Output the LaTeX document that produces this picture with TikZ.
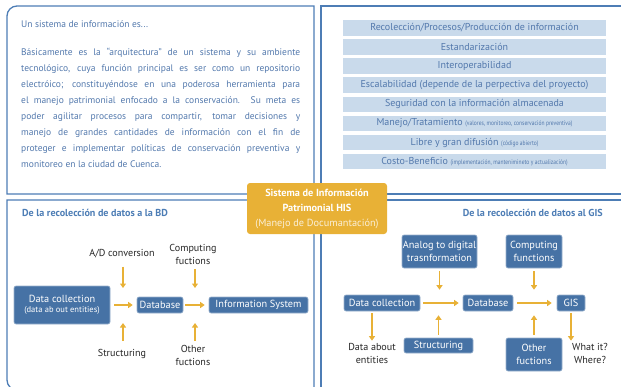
\documentclass[tikz,border=0pt]{standalone}
\usepackage{fontspec}
\setmainfont{PT Sans}
\newfontfamily\narrowfont[FakeStretch=0.84]{PT Sans}
\usetikzlibrary{arrows.meta, positioning}
\definecolor{HIS_Blue}{HTML}{4672A5}
\definecolor{HIS_Line}{HTML}{4D7DB5}
\definecolor{HIS_Text}{HTML}{5278AC}
\definecolor{HIS_Bar}{HTML}{C9DAEB}
\definecolor{HIS_Gold}{HTML}{E8B136}
\definecolor{HIS_Ink}{HTML}{262626}
\newcommand{\smallnote}[1]{{\narrowfont\fontsize{6.6}{7}\selectfont #1}}

\begin{document}
\begin{tikzpicture}[x=1pt, y=-1pt,
    panel/.style={draw=HIS_Line, line width=1.3pt},
    bluebox/.style={fill=HIS_Blue, draw=HIS_Blue!55!white, line width=0.6pt, rounded corners=2pt,
        text=white, align=center, inner sep=0pt, font=\fontsize{10.3}{12.5}\selectfont},
    bar/.style={fill=HIS_Bar, minimum width=263pt, minimum height=15.5pt, inner sep=0pt,
        text=HIS_Text, font=\fontsize{10}{10}\selectfont},
    flow/.style={draw=HIS_Gold, line width=1.8pt, -{Triangle[length=4.5pt, width=6pt]}},
    plain/.style={text=HIS_Ink, align=center, inner sep=1pt, font=\fontsize{10.1}{13}\selectfont},
    paneltitle/.style={text=HIS_Line, font=\bfseries\fontsize{10.1}{11}\selectfont, inner sep=0pt}]
    \clip (0,0) rectangle (621,386);

    % Panels
    \draw[panel] (314,194) -- (7,194) -- (7,16) arc[start angle=180, end angle=90, radius=10pt] -- (314,6) -- cycle;
    \draw[panel] (625,6) -- (321,6) -- (321,194) -- (625,194);
    \draw[panel] (314,200) -- (7,200) -- (7,380) arc[start angle=180, end angle=270, radius=10pt] -- (314,390) -- cycle;
    \draw[panel] (625,200) -- (321,200) -- (321,395);

    % Top left: text
    \node[anchor=base west, text=HIS_Text, inner sep=0pt, font=\fontsize{9.5}{16}\selectfont] (intro) at (21,27) {Un sistema de información es...};
    \node[anchor=north west, text width=279pt, align=justify, text=HIS_Text, inner sep=0pt,
        font=\fontsize{9.5}{16}\selectfont] (body) at (21,48)
        {Básicamente es la “arquitectura” de un sistema y su ambiente\linebreak
        tecnológico, cuya función principal es ser como un repositorio\linebreak
        electróico; constituyéndose en una poderosa herramienta para\linebreak
        el manejo patrimonial enfocado a la conservación. Su meta es\linebreak
        poder agilitar procesos para compartir, tomar decisiones y\linebreak
        manejo de grandes cantidades de información con el fin de\linebreak
        proteger e implementar políticas de conservación preventiva y\linebreak
        monitoreo en la ciudad de Cuenca.};

    % Top right: bars
    \foreach \txt [count=\i from 0] in {{Recolección/Procesos/Producción de información},
        {Estandarización}, {Interoperabilidad},
        {Escalabilidad (depende de la perpectiva del proyecto)},
        {Seguridad con la información almacenada},
        {Manejo/Tratamiento \smallnote{(valores, monitoreo, conservación preventiva)}},
        {Libre y gran difusión \smallnote{(código abierto)}},
        {Costo-Beneficio \smallnote{(implementación, mantenimineto y actualización)}}}
        \node[bar] (bar\i) at (474.5,28+19.08*\i) {\txt};

    % Bottom left: data to BD
    \node[paneltitle, anchor=base west] (title1) at (22,216) {De la recolección de datos a la BD};
    \node[bluebox, minimum width=96pt, minimum height=38pt] (dc1) at (62,305)
        {Data collection\\[-2pt]{\fontsize{8.5}{10}\selectfont(data ab out entities)}};
    \node[bluebox, minimum width=46pt, minimum height=16pt] (db1) at (160,305) {Database};
    \node[bluebox, minimum width=99pt, minimum height=16pt] (is1) at (258.5,305) {Information System};
    \node[plain] (adc) at (122,254) {A/D conversion};
    \node[plain] (cf1) at (193,254.5) {Computing\\fuctions};
    \node[plain] (str1) at (122,354) {Structuring};
    \node[plain] (of1) at (193,355.5) {Other\\fuctions};

    \draw[flow, shorten <=4pt, shorten >=4pt] (dc1) -- (db1);
    \draw[flow, shorten <=2pt, shorten >=4pt] (db1) -- (is1);
    \draw[flow, shorten <=7pt, shorten >=-2pt] (adc.south -| 123,0) -- (123,286);
    \draw[flow, shorten <=7pt, shorten >=-1pt] (str1.north -| 123,0) -- (123,324);
    \draw[flow, shorten <=3pt, shorten >=-2pt] (cf1.south -| 195,0) -- (195,286);
    \draw[flow, shorten <=3pt, shorten >=-1pt] (of1.north -| 195,0) -- (195,324);

    % Bottom right: data to GIS
    \node[paneltitle, anchor=base east] (title2) at (603,216) {De la recolección de datos al GIS};
    \node[bluebox, minimum width=75pt, minimum height=33pt] (atd) at (439.5,251.5) {Analog to digital\\trasnformation};
    \node[bluebox, minimum width=56pt, minimum height=33pt] (cf2) at (534,251.5) {Computing\\functions};
    \node[bluebox, minimum width=76pt, minimum height=16pt] (dc2) at (382,303) {Data collection};
    \node[bluebox, minimum width=50pt, minimum height=16pt] (db2) at (488,303) {Database};
    \node[bluebox, minimum width=28pt, minimum height=16pt] (gis) at (571,303) {GIS};
    \node[bluebox, minimum width=69pt, minimum height=15pt] (str2) at (438.5,345.5) {Structuring};
    \node[bluebox, minimum width=56pt, minimum height=33pt] (of2) at (534,354.5) {Other\\fuctions};
    \node[plain] (dae) at (372,353) {Data about\\entities};
    \node[plain] (wiw) at (590,353) {What it?\\Where?};

    \draw[flow, shorten <=3pt, shorten >=4pt] (dc2) -- (db2);
    \draw[flow, shorten <=4pt, shorten >=5pt] (db2) -- (gis);
    \draw[flow, shorten <=3pt, shorten >=5pt] (atd) -- (atd |- dc2.north);
    \draw[flow, shorten <=3pt, shorten >=5pt] (cf2) -- (cf2 |- dc2.north);
    \draw[flow, shorten <=3pt, shorten >=4pt] (str2) -- (str2 |- dc2.south);
    \draw[flow, shorten <=3pt, shorten >=4pt] (of2) -- (of2 |- dc2.south);
    \draw[flow, shorten <=2pt, shorten >=1pt] (dae |- dc2.south) -- (dae);
    \draw[flow, shorten <=2pt, shorten >=1pt] (gis) -- (gis |- wiw.north);

    % Central box
    \node[fill=HIS_Gold, rounded corners=3pt, minimum width=140pt, minimum height=51pt, inner sep=0pt,
        align=center, text=white, font=\fontsize{10.3}{15}\selectfont] (his) at (317,208.5)
        {\textbf{Sistema de Información}\\\textbf{Patrimonial HIS}\\{\color{white!80!HIS_Gold}(Manejo de Documantación)}};
\end{tikzpicture}
\end{document}
